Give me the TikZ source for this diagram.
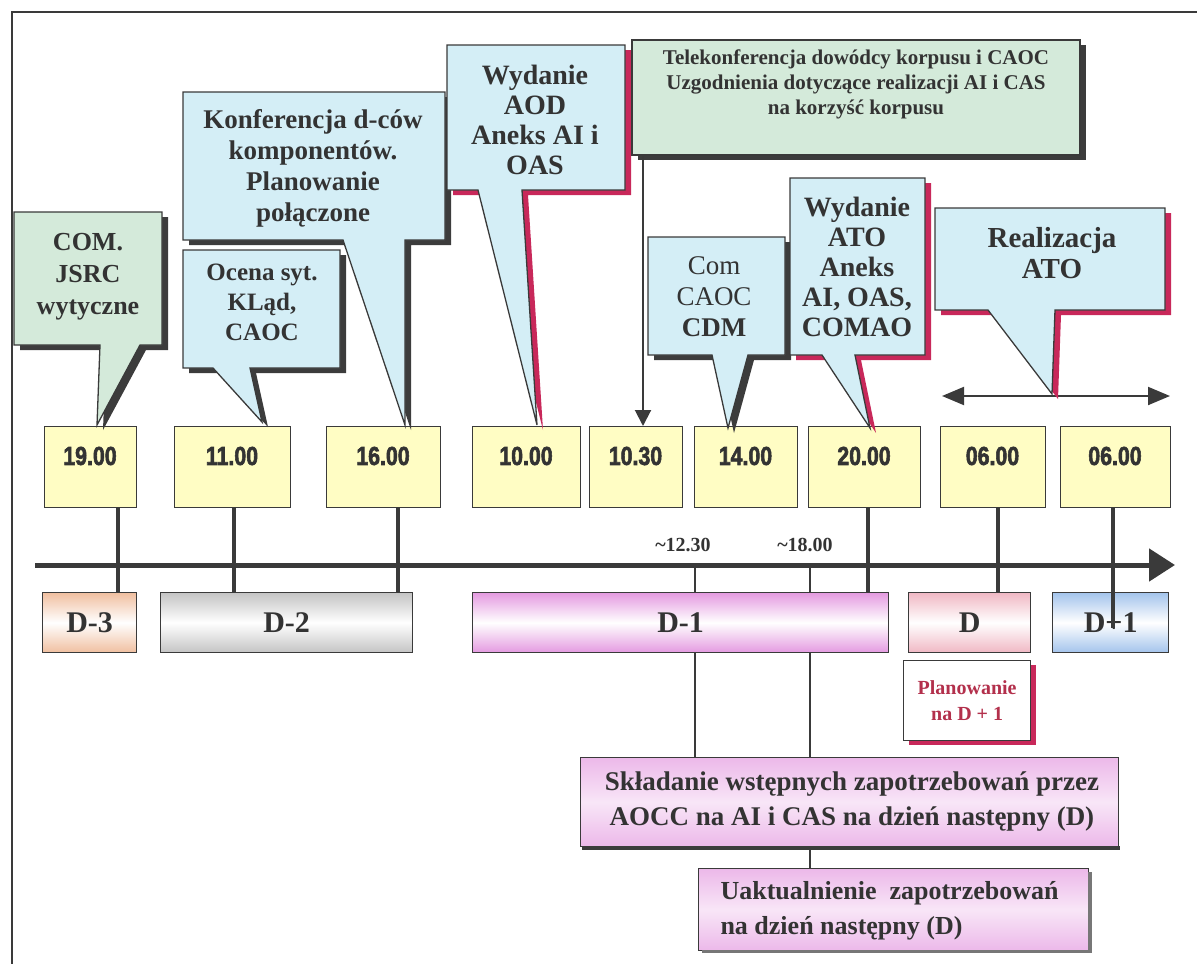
\documentclass[tikz,border=0pt]{standalone}
\usepackage{fontspec}
\setmainfont{Liberation Serif}
\newfontfamily\timefont[BoldFeatures={FakeBold=2.5}]{Liberation Sans}
\usetikzlibrary{arrows.meta,calc}
\definecolor{ink}{HTML}{333333}
\definecolor{linec}{HTML}{3A3A3A}
\definecolor{yel}{HTML}{FFFDC4}
\definecolor{cblue}{HTML}{D4EEF6}
\definecolor{cgreen}{HTML}{D4EADA}
\definecolor{shred}{HTML}{C8285A}
\definecolor{shdark}{HTML}{3C3C3C}
\definecolor{peach}{HTML}{F0BFA0}
\definecolor{greyd}{HTML}{C4C4C4}
\definecolor{magd}{HTML}{E49AE0}
\definecolor{pinkd}{HTML}{F0B8C4}
\definecolor{blued}{HTML}{A4C4EC}
\definecolor{planred}{HTML}{B3304C}
\newcommand\bubble[3]{\fill[#1,shift={(6,5)}] #3; \filldraw[#2] #3;}
\newcommand\tbox[4]{\node[tbox, minimum width={#3-#2}, anchor=north west] (#1) at (#2,426) {};
  \node[tlab] (#1l) at ({(#2+#3)/2},456) {\scalebox{0.82}[1]{#4}};}
\begin{document}
\begin{tikzpicture}[x=1pt,y=-1pt,
  every node/.style={text=ink},
  frame/.style={draw=linec, line width=1.2pt},
  tbox/.style={draw=linec, fill=yel, line width=1.3pt, minimum height=81, inner sep=0},
  tlab/.style={font=\timefont\bfseries\fontsize{26}{26}\selectfont, inner sep=0},
  callB/.style={fill=cblue, draw=linec, line width=1.3pt, line join=miter},
  callG/.style={fill=cgreen, draw=linec, line width=1.3pt, line join=miter},
  ctext/.style={font=\bfseries\fontsize{24}{29.5}\selectfont, align=center, inner sep=0},
  stem/.style={draw=linec, line width=3.5pt},
  thin/.style={draw=linec, line width=1.2pt},
  daybox/.style={draw=linec, line width=1.3pt, minimum height=60, inner sep=0, anchor=north west,
    font=\bfseries\fontsize{30}{30}\selectfont},
  arrowline/.style={draw=linec, line width=2pt},
  tip/.style={-{Triangle[length=16pt,width=16pt]}},
]
\useasboundingbox (0,0) rectangle (1197,964);
% frame
\draw[frame] (12,964) -- (12,12) -- (1197,12);

\coordinate (g1) at (695,565);
\coordinate (g2) at (810,565);

% time boxes
\tbox{t1}{44}{136}{19.00}
\tbox{t2}{174}{290}{11.00}
\tbox{t3}{326}{440}{16.00}
\tbox{t4}{472}{580}{10.00}
\tbox{t5}{589}{682}{10.30}
\tbox{t6}{694}{797}{14.00}
\tbox{t7}{808}{920}{20.00}
\tbox{t8}{940}{1045}{06.00}
\tbox{t9}{1060}{1170}{06.00}

% bottom process boxes
\node[draw=linec, line width=1.3pt, top color=magd!70, bottom color=magd!70, middle color=magd!25,
  minimum width=538, minimum height=89, anchor=north west, inner sep=0] (skl) at (580,757) {};
\node[draw=linec, line width=1.3pt, top color=magd!70, bottom color=magd!70, middle color=magd!25,
  minimum width=390, minimum height=82, anchor=north west, inner sep=0] (uak) at (698,868) {};

% guide lines
\draw[thin] (g1) -- (g1 |- skl.north);
\draw[thin] (g2) -- (g2 |- skl.north);
\draw[thin] (g2 |- skl.south) -- (g2 |- uak.north);
\fill[shdark] (582,846) rectangle (1120,850);
\fill[shdark!70] (1088,872) rectangle (1092,952);
\fill[shdark!70] (702,950) rectangle (1092,953);

% day boxes
\node[daybox, minimum width=94, top color=peach, bottom color=peach, middle color=white] (d3) at (42,592) {D-3};
\node[daybox, minimum width=252, top color=greyd, bottom color=greyd, middle color=white] (d2) at (160,592) {D-2};
\node[daybox, minimum width=416, top color=magd, bottom color=magd, middle color=white] (d1) at (472,592) {D-1};
\node[daybox, minimum width=122, top color=pinkd, bottom color=pinkd, middle color=white] (d0) at (908,592) {D};
\node[daybox, minimum width=116, top color=blued, bottom color=blued, middle color=white] (dp) at (1052,592) {D+1};

% axis
\coordinate (ax0) at (35,565);
\coordinate (ax1) at (1175,565);

% stems
\draw[stem] (t1.south -| 118,0) -- (d3.north -| 118,0);
\draw[stem] (t2.south -| 234,0) -- (d2.north -| 234,0);
\draw[stem] (t3.south -| 398,0) -- (d2.north -| 398,0);
\draw[stem] (t7.south -| 868,0) -- (d1.north -| 868,0);
\draw[stem] (t8.south -| 998,0) -- (d0.north -| 998,0);
\draw[stem] (t9.south -| 1113,0) -- (1113,628);
\draw[draw=linec, line width=5pt, -{Triangle[length=26pt,width=32pt]}] (ax0) -- (ax1);

\node[font=\bfseries\fontsize{20}{20}\selectfont] (l1) at (683,545) {\textasciitilde12.30};
\node[font=\bfseries\fontsize{20}{20}\selectfont] (l2) at (805,545) {\textasciitilde18.00};

% Planowanie
\fill[shred] (909,665) rectangle (1036,745);
\node[draw=linec, fill=white, line width=1.3pt, minimum width=127, minimum height=80, anchor=north west,
  inner sep=0] (plan) at (903,660) {};
\node[font=\bfseries\fontsize{20}{26}\selectfont, align=center, text=planred] (planl) at (plan.center) {Planowanie\\na D + 1};

% text of bottom boxes
\node[font=\bfseries\fontsize{27}{35}\selectfont, align=center] (skll) at (852,802)
  {Składanie wstępnych zapotrzebowań przez\\AOCC na AI i CAS na dzień następny (D)};
\node[font=\bfseries\fontsize{26}{35}\selectfont, align=left, anchor=west] (uakl) at (717,911)
  {Uaktualnienie\ \ zapotrzebowań\\na dzień następny (D)};

% callouts
\bubble{shdark}{callG}{(14,212) -- (162,212) -- (162,345) -- (140,345) -- (97,425) -- (100,345) -- (14,345) -- cycle}
\node[ctext, font=\bfseries\fontsize{26}{32}\selectfont] (com) at (88,277) {COM.\\JSRC\\wytyczne};

\bubble{shdark}{callB}{(183,92) -- (445,92) -- (445,240) -- (405,240) -- (405,425) -- (343,240) -- (183,240) -- cycle}
\node[ctext, font=\bfseries\fontsize{27}{31}\selectfont] (konf) at (313,168) {Konferencja d-ców\\komponentów.\\Planowanie\\połączone};

\bubble{shdark}{callB}{(183,250) -- (340,250) -- (340,368) -- (250,368) -- (262,422) -- (213,368) -- (183,368) -- cycle}
\node[ctext, font=\bfseries\fontsize{25}{30}\selectfont] (ocena) at (262,302) {Ocena syt.\\KLąd,\\CAOC};

\bubble{shred}{callB}{(447,45) -- (625,45) -- (625,190) -- (522,190) -- (537,425) -- (478,190) -- (447,190) -- cycle}
\node[ctext, font=\bfseries\fontsize{28}{30}\selectfont] (aod) at (535,120) {Wydanie\\AOD\\Aneks AI i\\OAS};

\bubble{shdark}{callG}{(632,40) -- (1080,40) -- (1080,155) -- (632,155) -- cycle}
\node[ctext, font=\bfseries\fontsize{21}{25}\selectfont] (tele) at (856,84) {Telekonferencja dowódcy korpusu i CAOC\\Uzgodnienia dotyczące realizacji AI i CAS\\na korzyść korpusu};
\coordinate (teleb) at (643,155);
\draw[arrowline, tip] (teleb) -- (t5.north -| teleb);

\bubble{shdark}{callB}{(648,237) -- (785,237) -- (785,355) -- (748,355) -- (728,428) -- (712,355) -- (648,355) -- cycle}
\node[ctext, font=\fontsize{27}{31}\selectfont] (cdm) at (714,297) {Com\\CAOC\\\textbf{CDM}};

\bubble{shred}{callB}{(790,178) -- (925,178) -- (925,355) -- (855,355) -- (870,428) -- (822,355) -- (790,355) -- cycle}
\node[ctext, font=\bfseries\fontsize{28}{30}\selectfont] (ato) at (857,267) {Wydanie\\ATO\\Aneks\\AI, OAS,\\COMAO};

\coordinate (ra) at (942,396);
\coordinate (rb) at (1170,396);
\draw[arrowline, {Triangle[length=22pt,width=18pt]}-{Triangle[length=22pt,width=18pt]}] (ra) -- (rb);
\bubble{shred}{callB}{(935,208) -- (1165,208) -- (1165,310) -- (1055,310) -- (1052,394) -- (988,310) -- (935,310) -- cycle}
\node[ctext, font=\bfseries\fontsize{29}{31}\selectfont] (real) at (1052,253) {Realizacja\\ATO};
\end{tikzpicture}
\end{document}
